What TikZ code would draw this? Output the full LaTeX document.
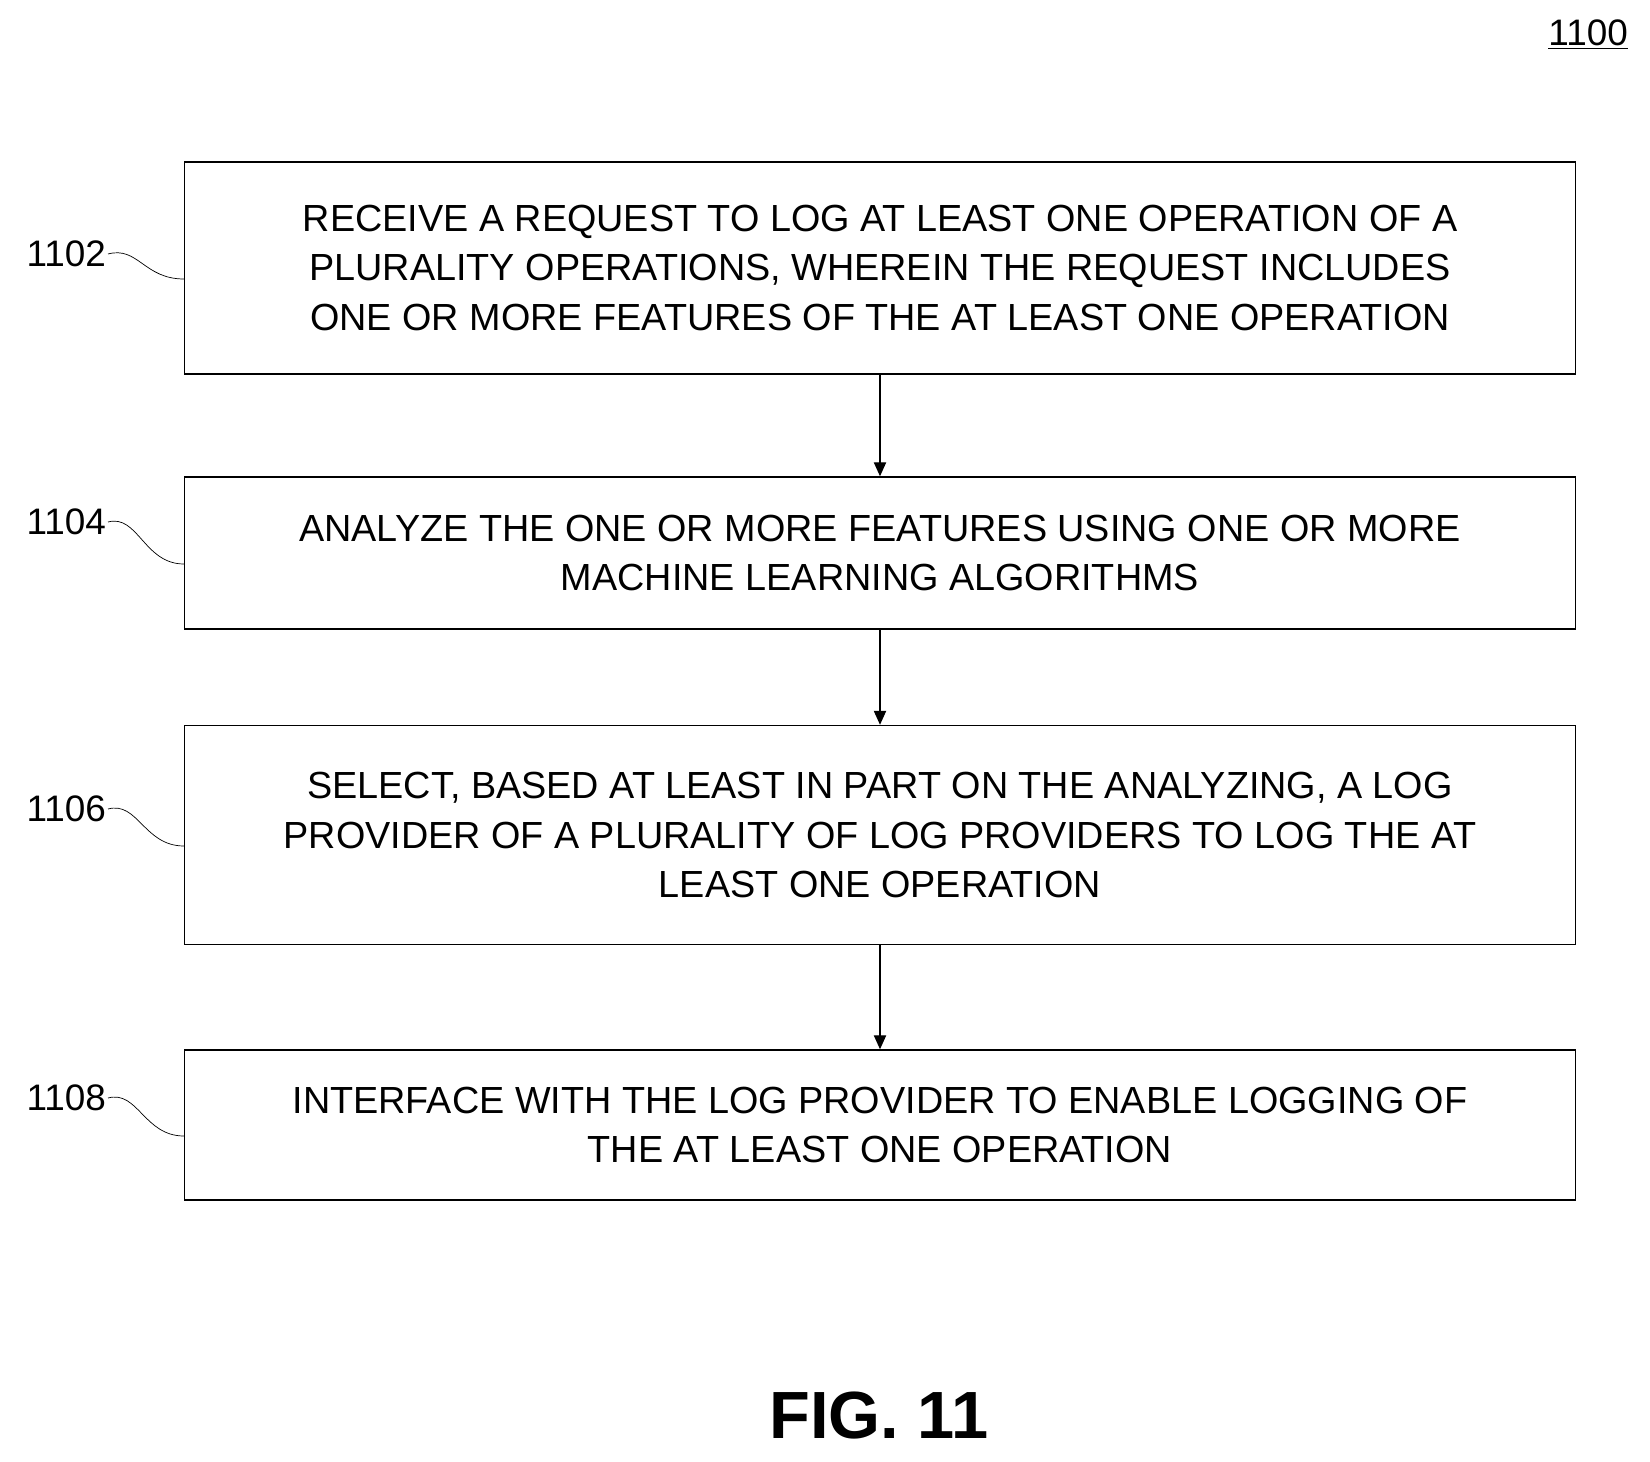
\documentclass[tikz,border=0pt]{standalone}
\usepackage{fontspec}
\setmainfont{Liberation Sans}
\usetikzlibrary{arrows.meta,positioning,calc}
\begin{document}
\begin{tikzpicture}
    [x=0.02cm,y=-0.02cm,
     stepbox/.style={rectangle,draw=black,thick,minimum width=27.82cm,align=center,font=\fontsize{21.5}{28}\selectfont},
     tag/.style={anchor=east,inner sep=1pt,font=\fontsize{21}{24}\selectfont},
     flow/.style={-{Triangle[length=8pt,width=7pt]},thick}]
    \useasboundingbox (0,0) rectangle (1650,1462);
    \node[anchor=north east,font=\fontsize{21}{24}\selectfont] (fig) at (1634,14) {\underline{1100}};
    \node[stepbox,minimum height=4.24cm] (s1) at (880,268) {RECEIVE A REQUEST TO LOG AT LEAST ONE OPERATION OF A\\PLURALITY OPERATIONS, WHEREIN THE REQUEST INCLUDES\\ONE OR MORE FEATURES OF THE AT LEAST ONE OPERATION};
    \node[stepbox,minimum height=3.04cm] (s2) at (880,553) {ANALYZE THE ONE OR MORE FEATURES USING ONE OR MORE\\MACHINE LEARNING ALGORITHMS};
    \node[stepbox,minimum height=4.38cm] (s3) at (880,835) {SELECT, BASED AT LEAST IN PART ON THE ANALYZING, A LOG\\PROVIDER OF A PLURALITY OF LOG PROVIDERS TO LOG THE AT\\LEAST ONE OPERATION};
    \node[stepbox,minimum height=3.0cm] (s4) at (880,1125) {INTERFACE WITH THE LOG PROVIDER TO ENABLE LOGGING OF\\THE AT LEAST ONE OPERATION};
    % reference numerals
    \node[tag] (t1) at (108,254) {1102};
    \node[tag] (t2) at (108,522) {1104};
    \node[tag] (t3) at (108,809) {1106};
    \node[tag] (t4) at (108,1098) {1108};
    \foreach \t/\s in {t1/s1,t2/s2,t3/s3,t4/s4}
        \draw (\t.east) .. controls +(30,-8) and +(-40,0) .. ($(\s.west)+(0,11)$);
    \draw[flow] (s1) -- (s2);
    \draw[flow] (s2) -- (s3);
    \draw[flow] (s3) -- (s4);
    \node[font=\bfseries\fontsize{38}{42}\selectfont] (cap) at (879,1416) {FIG. 11};
\end{tikzpicture}
\end{document}
